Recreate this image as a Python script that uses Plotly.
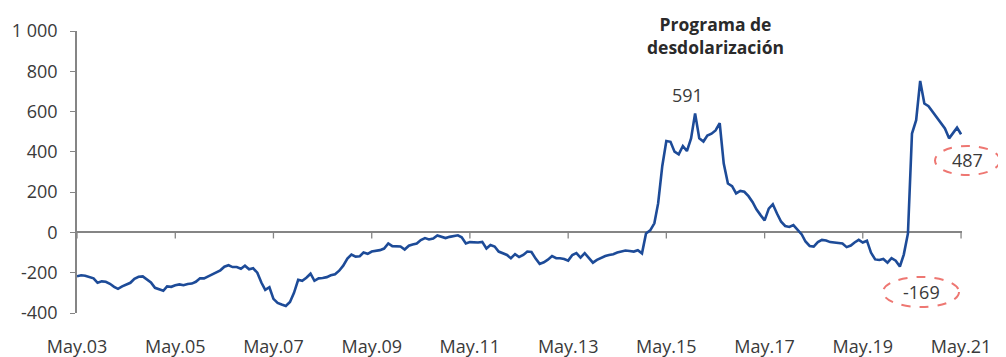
import pandas as pd
import plotly.graph_objects as go

# Monthly series, May 2003 - May 2021
start = "2003-05-01"
values = [
    -218, -213, -215, -222, -228, -250, -243, -245, -255, -270,
    -280, -268, -258, -250, -230, -220, -218, -235, -248, -275,
    -282, -290, -268, -270, -262, -258, -262, -256, -254, -245,
    -228, -228, -218, -208, -200, -188, -170, -163, -172, -172,
    -180, -165, -183, -178, -200, -250, -285, -272, -330, -350,
    -358, -365, -345, -300, -235, -240, -225, -205, -240, -228,
    -226, -222, -213, -208, -190, -165, -130, -110, -120, -118,
    -100, -106, -95, -92, -88, -80, -55, -68, -70, -70,
    -85, -66, -60, -55, -38, -28, -35, -30, -15, -22,
    -28, -22, -18, -14, -24, -55, -48, -50, -50, -47,
    -80, -62, -70, -95, -105, -112, -128, -108, -122, -112,
    -95, -97, -130, -156, -148, -135, -117, -128, -128, -132,
    -140, -112, -103, -125, -103, -125, -150, -136, -125, -117,
    -112, -108, -100, -96, -90, -92, -95, -88, -104, -5,
    10, 45, 144, 330, 454, 450, 401, 388, 429, 404,
    467, 591, 467, 451, 481, 490, 506, 542, 342, 243,
    230, 194, 206, 202, 180, 150, 115, 86, 60, 118,
    140, 94, 53, 32, 27, 36, 15, -10, -45, -67,
    -70, -48, -37, -40, -48, -50, -52, -55, -73, -65,
    -50, -37, -50, -41, -100, -134, -137, -132, -150, -128,
    -140, -169, -110, -5, 491, 557, 752, 640, 627, 599,
    570, 540, 516, 467, 495, 520, 487,
]
dates = pd.date_range(start, periods=len(values), freq="MS")

tick_dates = pd.date_range("2003-05-01", "2021-05-01", freq="24MS")
tick_labels = ["May.%02d" % (d.year % 100) for d in tick_dates]
y_ticks = [-400, -200, 0, 200, 400, 600, 800, 1000]
y_labels = ["-400", "-200", "0", "200", "400", "600", "800", "1 000"]

TXT = "#3a3a3a"
AX = "#858585"
FONT = "Open Sans"

# page offset introduced by the default body margin
OFF = 8
W, H = 1006 - OFF, 357 - OFF
# plot-area frame in page pixels
L, R, T, B = 77, 962, 31, 313

def px_to_paper_x(px):
    return (px - L) / (R - L)

def px_to_paper_y(py):
    return (B - py) / (B - T)

fig = go.Figure()
fig.add_trace(go.Scatter(
    x=dates, y=values, mode="lines",
    line=dict(color="#1D4B98", width=2.6),
    hoverinfo="skip", showlegend=False,
))

shapes = []
for d in tick_dates:
    shapes.append(dict(type="line", xref="x", yref="y", x0=d, x1=d,
                       ysizemode="pixel", yanchor=0, y0=0, y1=-6,
                       line=dict(color=AX, width=1.3)))

for (x0, x1, y0, y1) in [(935, 1000, 146, 175), (883, 959, 277, 307)]:
    shapes.append(dict(type="circle", xref="paper", yref="paper",
                       x0=px_to_paper_x(x0), x1=px_to_paper_x(x1),
                       y0=px_to_paper_y(y1), y1=px_to_paper_y(y0),
                       line=dict(color="#EE7772", width=2, dash="dash")))

def ann(text, px, py, size, color=TXT):
    return dict(text=text, xref="paper", yref="paper",
                x=px_to_paper_x(px), y=px_to_paper_y(py),
                xanchor="center", yanchor="middle", showarrow=False,
                align="center", font=dict(family=FONT, size=size, color=color))

annotations = [
    ann("<b>Programa de<br>desdolarización</b>", 715, 36, 17.5, "#2a2a2a"),
    ann("591", 687, 95, 18),
    ann("487", 968, 160, 18),
    ann("-169", 921, 292, 18),
]

fig.update_layout(
    width=W, height=H,
    margin=dict(l=L - OFF, r=W - (R - OFF), t=T - OFF, b=H - (B - OFF)),
    paper_bgcolor="white", plot_bgcolor="white",
    font=dict(family=FONT, size=18, color=TXT),
    shapes=shapes, annotations=annotations,
    xaxis=dict(
        range=[pd.Timestamp("2003-05-01"), pd.Timestamp("2021-05-08")],
        tickvals=tick_dates, ticktext=tick_labels,
        showgrid=False, zeroline=False, showline=False, automargin=False,
        ticks="outside", ticklen=17, tickcolor="rgba(0,0,0,0)",
        tickfont=dict(family=FONT, size=18, color=TXT),
    ),
    yaxis=dict(
        range=[-400, 1000], tickvals=y_ticks, ticktext=y_labels,
        showgrid=False, zeroline=True, zerolinecolor=AX, zerolinewidth=1.5,
        showline=True, linecolor=AX, linewidth=1.5, automargin=False,
        ticks="outside", ticklen=5, tickcolor=AX, tickwidth=1.3,
        ticklabelstandoff=9,
        tickfont=dict(family=FONT, size=18, color=TXT),
    ),
)

fig.write_html("out.html")
